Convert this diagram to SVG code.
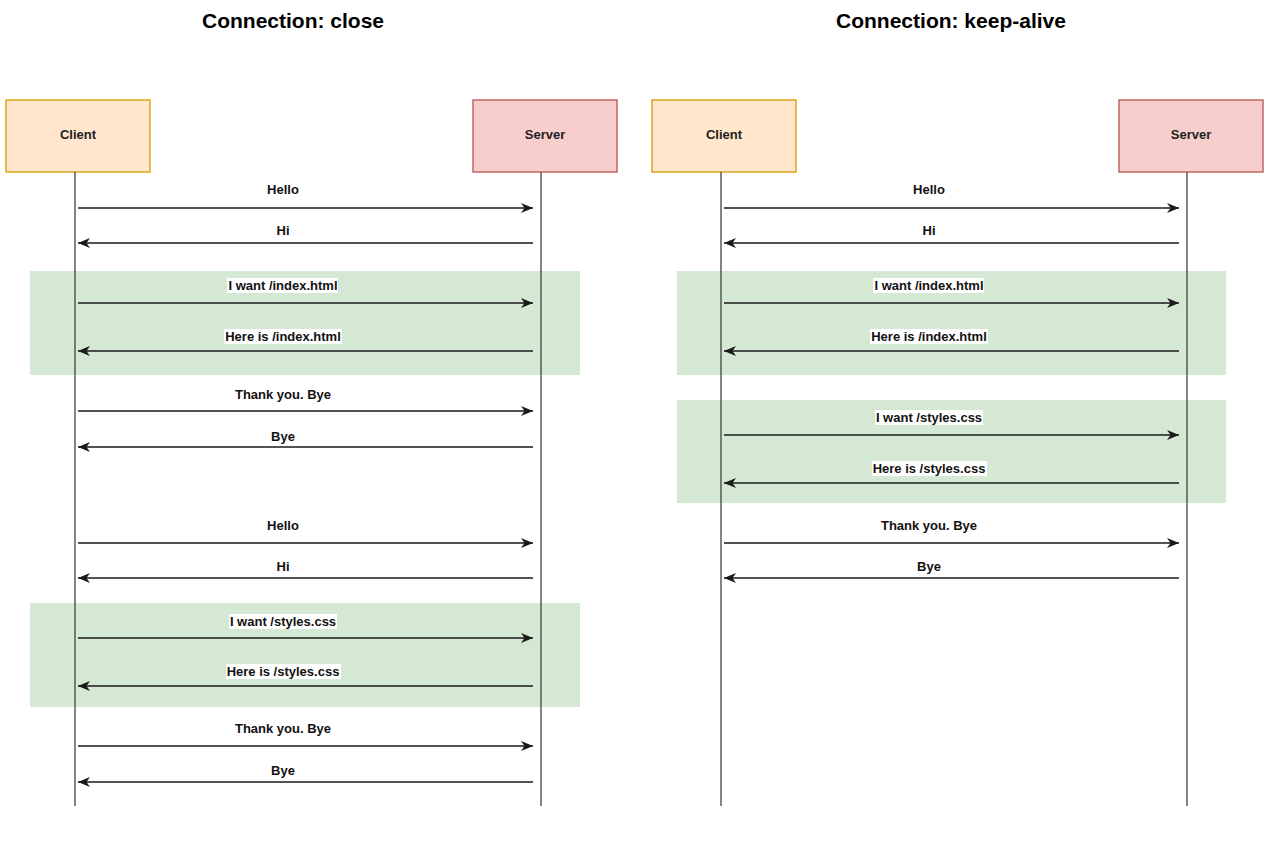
<svg xmlns="http://www.w3.org/2000/svg" width="1288" height="853" viewBox="0 0 1288 853">
<defs>
<style>
.title{font-family:"Liberation Sans",Arial,sans-serif;font-weight:bold;font-size:21px;fill:#000;text-anchor:middle}
.nlab{font-family:"Liberation Sans",Arial,sans-serif;font-weight:bold;font-size:13px;fill:#222;text-anchor:middle}
.client{fill:#ffe6cc;stroke:#d79b00;stroke-width:1.3}
.server{fill:#f8cecc;stroke:#b85450;stroke-width:1.3}
.frame{fill:#d5e8d4;stroke:none}
.life{stroke:#333;stroke-width:1.2;fill:none}
.msg{stroke:#1a1a1a;stroke-width:1.3;fill:none;marker-end:url(#ah)}
.lbg{fill:#fff}
.lab{font-family:"Liberation Sans",Arial,sans-serif;font-weight:bold;font-size:13px;fill:#111;text-anchor:middle}
</style>
<marker id="ah" markerUnits="userSpaceOnUse" markerWidth="14" markerHeight="12" refX="12" refY="5" orient="auto">
<path d="M0,0 L12,5 L0,10 L3.5,5 Z" fill="#1a1a1a"/>
</marker>
</defs>
<rect width="1288" height="853" fill="#fff"/>

<g id="titles">
<text class="title" x="293" y="28">Connection: close</text>
<text class="title" x="951" y="28">Connection: keep-alive</text>
</g>

<g id="frames">
<rect class="frame" x="30" y="271" width="550" height="104"/>
<rect class="frame" x="30" y="603" width="550" height="104"/>
<rect class="frame" x="677" y="271" width="549" height="104"/>
<rect class="frame" x="677" y="400" width="549" height="103"/>
</g>

<g id="client-close">
<rect class="client" x="6" y="100" width="144" height="72"/>
<text class="nlab" x="78" y="139">Client</text>
</g>
<g id="server-close">
<rect class="server" x="473" y="100" width="144" height="72"/>
<text class="nlab" x="545" y="139">Server</text>
</g>
<g id="client-keepalive">
<rect class="client" x="652" y="100" width="144" height="72"/>
<text class="nlab" x="724" y="139">Client</text>
</g>
<g id="server-keepalive">
<rect class="server" x="1119" y="100" width="144" height="72"/>
<text class="nlab" x="1191" y="139">Server</text>
</g>

<g id="connectors">
<line class="life" x1="75" y1="172" x2="75" y2="806"/>
<line class="life" x1="541" y1="172" x2="541" y2="806"/>
<line class="life" x1="721" y1="172" x2="721" y2="806"/>
<line class="life" x1="1187" y1="172" x2="1187" y2="806"/>

<!-- close -->
<line class="msg" x1="78" y1="208" x2="533" y2="208"/>
<line class="msg" x1="533" y1="243" x2="78" y2="243"/>
<line class="msg" x1="78" y1="303" x2="533" y2="303"/>
<line class="msg" x1="533" y1="351" x2="78" y2="351"/>
<line class="msg" x1="78" y1="411" x2="533" y2="411"/>
<line class="msg" x1="533" y1="447" x2="78" y2="447"/>
<line class="msg" x1="78" y1="543" x2="533" y2="543"/>
<line class="msg" x1="533" y1="578" x2="78" y2="578"/>
<line class="msg" x1="78" y1="638" x2="533" y2="638"/>
<line class="msg" x1="533" y1="686" x2="78" y2="686"/>
<line class="msg" x1="78" y1="746" x2="533" y2="746"/>
<line class="msg" x1="533" y1="782" x2="78" y2="782"/>

<!-- keep-alive -->
<line class="msg" x1="724" y1="208" x2="1179" y2="208"/>
<line class="msg" x1="1179" y1="243" x2="724" y2="243"/>
<line class="msg" x1="724" y1="303" x2="1179" y2="303"/>
<line class="msg" x1="1179" y1="351" x2="724" y2="351"/>
<line class="msg" x1="724" y1="435" x2="1179" y2="435"/>
<line class="msg" x1="1179" y1="483" x2="724" y2="483"/>
<line class="msg" x1="724" y1="543" x2="1179" y2="543"/>
<line class="msg" x1="1179" y1="578" x2="724" y2="578"/>

<!-- labels close -->
<rect class="lbg" x="266" y="182" width="34" height="15"/><text class="lab" x="283" y="194">Hello</text>
<rect class="lbg" x="276" y="223" width="15" height="15"/><text class="lab" x="283" y="235">Hi</text>
<rect class="lbg" x="227" y="278" width="111" height="15"/><text class="lab" x="283" y="290">I want /index.html</text>
<rect class="lbg" x="224" y="329" width="118" height="15"/><text class="lab" x="283" y="341">Here is /index.html</text>
<rect class="lbg" x="234" y="387" width="98" height="15"/><text class="lab" x="283" y="399">Thank you. Bye</text>
<rect class="lbg" x="270" y="429" width="26" height="15"/><text class="lab" x="283" y="441">Bye</text>
<rect class="lbg" x="266" y="518" width="34" height="15"/><text class="lab" x="283" y="530">Hello</text>
<rect class="lbg" x="276" y="559" width="15" height="15"/><text class="lab" x="283" y="571">Hi</text>
<rect class="lbg" x="229" y="614" width="108" height="15"/><text class="lab" x="283" y="626">I want /styles.css</text>
<rect class="lbg" x="226" y="664" width="115" height="15"/><text class="lab" x="283" y="676">Here is /styles.css</text>
<rect class="lbg" x="234" y="721" width="98" height="15"/><text class="lab" x="283" y="733">Thank you. Bye</text>
<rect class="lbg" x="270" y="763" width="26" height="15"/><text class="lab" x="283" y="775">Bye</text>

<!-- labels keep-alive -->
<rect class="lbg" x="912" y="182" width="34" height="15"/><text class="lab" x="929" y="194">Hello</text>
<rect class="lbg" x="922" y="223" width="15" height="15"/><text class="lab" x="929" y="235">Hi</text>
<rect class="lbg" x="873" y="278" width="111" height="15"/><text class="lab" x="929" y="290">I want /index.html</text>
<rect class="lbg" x="870" y="329" width="118" height="15"/><text class="lab" x="929" y="341">Here is /index.html</text>
<rect class="lbg" x="875" y="410" width="108" height="15"/><text class="lab" x="929" y="422">I want /styles.css</text>
<rect class="lbg" x="872" y="461" width="115" height="15"/><text class="lab" x="929" y="473">Here is /styles.css</text>
<rect class="lbg" x="880" y="518" width="98" height="15"/><text class="lab" x="929" y="530">Thank you. Bye</text>
<rect class="lbg" x="916" y="559" width="26" height="15"/><text class="lab" x="929" y="571">Bye</text>
</g>
</svg>
